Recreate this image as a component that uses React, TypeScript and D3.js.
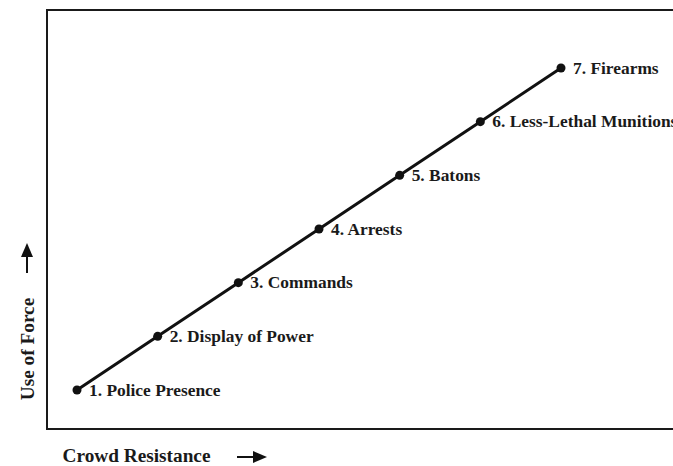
import React, { useEffect, useRef } from 'react';
import * as d3 from 'd3';

const levels = [1, 2, 3, 4, 5, 6, 7];
const labels = [
  '1. Police Presence',
  '2. Display of Power',
  '3. Commands',
  '4. Arrests',
  '5. Batons',
  '6. Less-Lethal Munitions',
  '7. Firearms',
];
const xTitle = 'Crowd Resistance';
const yTitle = 'Use of Force';

const W = 673;
const H = 466;
const FONT = '"Liberation Serif", "DejaVu Serif", serif';

const App: React.FC = () => {
  const svgRef = useRef<SVGSVGElement>(null);

  useEffect(() => {
    if (!svgRef.current) return;
    const svg = d3.select(svgRef.current);
    svg.selectAll('*').remove();

    // plot frame edges
    const frame = { left: 47, top: 10, bottom: 429, right: W + 10 };

    const x = d3.scaleLinear().domain([1, 7]).range([77, 561]);
    const y = d3.scaleLinear().domain([1, 7]).range([390, 68]);

    const defs = svg.append('defs');
    defs
      .append('marker')
      .attr('id', 'arrow')
      .attr('viewBox', '0 0 14 12')
      .attr('refX', 0)
      .attr('refY', 6)
      .attr('markerWidth', 14)
      .attr('markerHeight', 12)
      .attr('markerUnits', 'userSpaceOnUse')
      .attr('orient', 'auto')
      .append('path')
      .attr('d', 'M0,0L14,6L0,12Z')
      .attr('fill', '#111');

    // frame: left, top, bottom (right side runs off the page)
    svg
      .append('path')
      .attr(
        'd',
        `M${frame.right},${frame.top}H${frame.left}V${frame.bottom}H${frame.right}`
      )
      .attr('fill', 'none')
      .attr('stroke', '#1a1a1a')
      .attr('stroke-width', 2);

    const line = d3
      .line<number>()
      .x((d) => x(d))
      .y((d) => y(d));

    svg
      .append('path')
      .datum(levels)
      .attr('d', line)
      .attr('fill', 'none')
      .attr('stroke', '#111')
      .attr('stroke-width', 3);

    svg
      .selectAll('.dot')
      .data(levels)
      .enter()
      .append('circle')
      .attr('class', 'dot')
      .attr('cx', (d) => x(d))
      .attr('cy', (d) => y(d))
      .attr('r', 4.5)
      .attr('fill', '#111');

    svg
      .selectAll('.lbl')
      .data(levels)
      .enter()
      .append('text')
      .attr('class', 'lbl')
      .attr('x', (d) => x(d) + 12)
      .attr('y', (d) => y(d) + 5.5)
      .attr('font-family', FONT)
      .attr('font-weight', 'bold')
      .attr('font-size', 17.4)
      .attr('fill', '#1a1a1a')
      .text((d, i) => labels[i]);

    // axis titles
    svg
      .append('text')
      .attr('x', 136.5)
      .attr('y', 462)
      .attr('text-anchor', 'middle')
      .attr('font-family', FONT)
      .attr('font-weight', 'bold')
      .attr('font-size', 19.3)
      .attr('fill', '#1a1a1a')
      .text(xTitle);

    svg
      .append('line')
      .attr('x1', 237)
      .attr('y1', 457)
      .attr('x2', 253)
      .attr('y2', 457)
      .attr('stroke', '#111')
      .attr('stroke-width', 2)
      .attr('marker-end', 'url(#arrow)');

    svg
      .append('text')
      .attr('transform', 'translate(34,349) rotate(-90)')
      .attr('text-anchor', 'middle')
      .attr('font-family', FONT)
      .attr('font-weight', 'bold')
      .attr('font-size', 19.3)
      .attr('fill', '#1a1a1a')
      .text(yTitle);

    svg
      .append('line')
      .attr('x1', 27)
      .attr('y1', 273)
      .attr('x2', 27)
      .attr('y2', 257)
      .attr('stroke', '#111')
      .attr('stroke-width', 2)
      .attr('marker-end', 'url(#arrow)');
  }, []);

  return (
    <svg
      ref={svgRef}
      width={W}
      height={H}
      style={{ position: 'absolute', left: 0, top: 0, background: '#fff' }}
    />
  );
};

export default App;
